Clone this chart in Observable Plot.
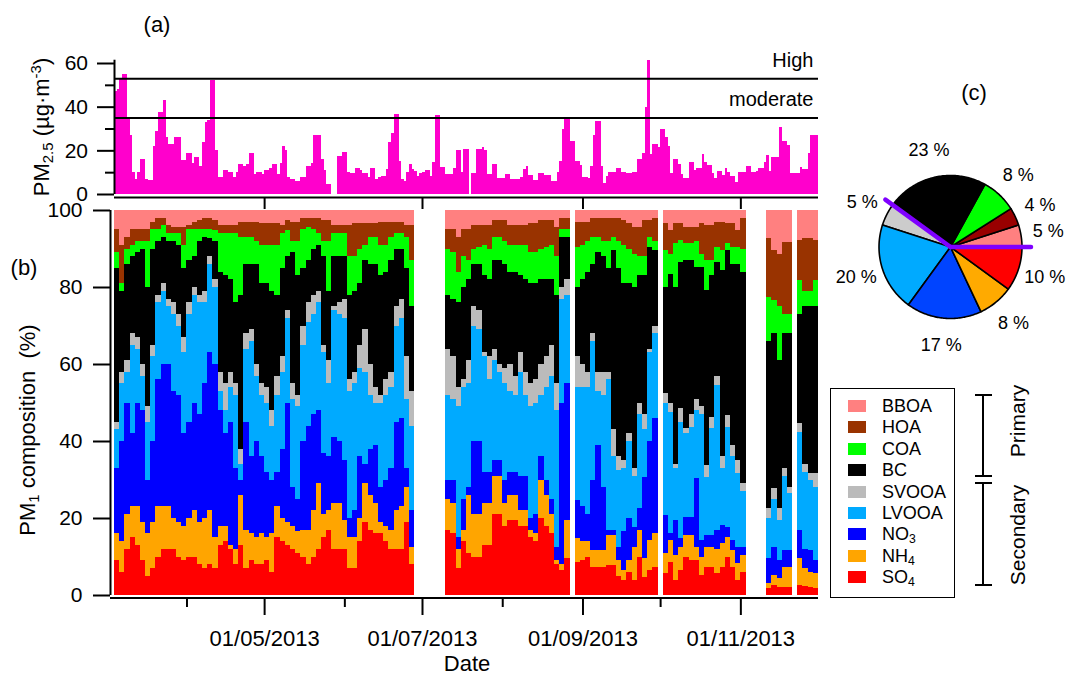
<!DOCTYPE html>
<html><head><meta charset="utf-8">
<script src="https://cdn.jsdelivr.net/npm/d3@7"></script>
<script src="https://cdn.jsdelivr.net/npm/@observablehq/plot@0.6"></script>
<style>
body{margin:0;background:#fff;}
#root{position:relative;width:1067px;height:676px;font-family:"Liberation Sans",Arial,Helvetica,sans-serif;color:#000;overflow:hidden;background:#fff;}
.t{position:absolute;transform:translate(-50%,-50%);white-space:pre;line-height:1;}
.rot{position:absolute;transform:translate(-50%,-50%) rotate(-90deg);white-space:pre;line-height:1;}
sub,sup{font-size:0.68em;line-height:0;}
sub{vertical-align:-0.28em;}
sup{vertical-align:0.55em;}
.sw{position:absolute;width:18px;height:12px;}
.lt{position:absolute;font-size:18px;line-height:1;white-space:pre;transform:translateY(-50%);}
.ln{position:absolute;background:#000;}
</style></head>
<body><div id="root"></div>
<script>
// ---------------- DATA ----------------
const startDay = "2013-03-04";          // first day of the record
const binDays = 2;                      // composition columns are 2-day bins

// (a) daily PM2.5 (µg m-3), null = missing
const pm25 = [
47,48,53,55,55,35,27,10,7,10, 16,16,7,6.5,6.5,22,29,37.5,37.5,43,
26,23,23,26,26,26,15.6,15.6,19,19, 14,17,17,13,24,33,34,52,52,20,
8,8,11,11,10,10,8,10,13.6,13.6, 13,13.6,19,19,9,10,10,9,11,11,
12,13.6,13.6,9,14,22,20,8,7,7, 6,6,8,8,13,13,14,27,27,27,
16,11,4.5,4.5,null,null,17.6,17.6,19.4,19.4, 10,9.5,9.5,12,12,11,9.5,9.5,8,12,
12,7,8,8.4,8.4,11.5,24,28,36.6,36.6, 15,7,6,10,13.6,11.5,10.6,8.4,9.5,10,
11,11,8.4,14.5,36,36,12.5,12.5,9,9, 9,12,20,20,10,20.6,20.6,null,9.5,9.5,
20.5,20.5,21.7,20,9.2,9.2,13.6,13.6,7.2,7.2, 7.2,9.2,9.2,6.7,6.7,6.7,6.7,8,11.3,13,
8.7,8.7,6.4,6.4,9.8,9.8,8.7,8.7,8.7,6, 6,10,15,30,34.7,34.7,24.5,24.5,15,15,
13.3,7.7,7.7,7.2,12.9,27,33.5,33.5,12.9,5.2, 8.3,10.3,10.3,10.3,12,12,10,10,9.5,9.5,
10,10,16,16,19,40,61.2,18.4,23,23, 21.7,30,30,26.3,22.2,9.5,16,16,13.8,9.2,
7.2,7.2,14.5,14.5,11,12,12,18.2,14.8,13.3, 13.3,9.5,7.2,10.6,10.6,8.7,12,10,8.3,8.3,
5.4,10,10,10.3,13,13,10,10,10.6,11.8, 11.8,14.8,17.9,10.7,16.8,16.8,16.8,30.6,24.5,24.5,
22.5,9.5,9.5,9.5,9.5,12.2,11.3,11.3,18.7,27, 27,27
];
const thresholds = [{label: "High", value: 53}, {label: "moderate", value: 35}];

// (b) PM1 composition: cumulative upper edge (%) of each stacked layer, 2-day bins, null = gap
const so4Top = [
9,6,12,15,13,9,5,7,10,12, 12,12,10,9,10,10,8,7,8,7, 13,14,12,8,13,7,9,8,8,9,
6,15,14,13,12,11,10,8,10,12, 15,17,12,12,12,7,7,14,19,17, 16,16,14,12,12,12,19,8,null,null,
null,null,null,null,17,16,7,14,11,10, 10,13,13,21,21,18,19.5,19.5,18,18, 15,14,20,18,16,8,6.5,9.5,null,8.7,
9,10,7.4,7.4,7.4,7.8,7.8,5,4,6, 4,10,4.8,6.5,7.4,null,5.6,8.7,4,6.5, 10,9,9,5.2,7.4,7.4,5.6,7.4,10,7.4,
4,6,null,null,null,null,1.7,2.6,2.2,2.2, 2.2,null,2.6,2.4,2.2,1.7];
const nh4Top = [
16,14,21,23,23,19,16,19,23,23, 23,20,19,18,20,22,19,20,22,15, 18,18,13,12,26,17,16,15,16,15,
16,23,20,19,18,16.5,17,17,22,29, 21,22,24,24,19.5,15,15,20,29,26, 24,19,18,17,22,23,28,12.5,null,null,
null,null,null,null,25,24,12,17,26,21, 21,24,24,31,31,24,26,26,22,22, 17,16,30,26,21,9,8,19.5,null,14.7,
14,14,11.7,11.7,11.7,15.6,15.6,9,6.5,9, 12.5,17,9.5,14.3,16,null,10.8,14.3,10.4,12.5, 15.6,15.6,12.5,10,12.5,12.5,12,13.4,15,11.7,
8.2,10.4,null,null,null,null,3,5.2,4.3,7.4, 7.4,null,9.5,7,6,5.6];
const no3Top = [
33,40,50,42,50,48,30,40,56,60, 60,53,52,42,45,50,47,55,63,60, 48,42,45,33,30,45,36,40,36,32,
30,32,38,50,28,25,40,44,47,48, 37,36,41,40,35,20,22,36,34,38, 39,28,30,33,45,46,33,22,null,null,
null,null,null,null,30,30,15,25,28,40, 40,32,32,35,35,30,32,32,31,31, 20,21,36,30,25,12.5,50,55,null,24.7,
23,21,30,39,28,17,17,12.5,16.5,20, 17.7,22.5,30.7,40,46,null,20.8,16,19.5,14.7, 20.3,20.3,30.3,14.3,15.6,15.6,16.9,18.2,17.7,14.3,
12.5,12.5,null,null,null,null,9.5,12.5,9,11.7, 11.7,null,16.9,12,11.7,9];
const lvooaTop = [
43,55,58,65,64,57,45,62,76,79, 75,73,70,63,73,78,76,76,86,80, 53,48,54,52,34,64,66,57,52,50,
44,52,58,72,51,49,65,71,73,76, 63,55,74,73,72,53,55,59,58,52, 50,50,52,54,70,72,51,44,null,null,
null,null,null,null,52,51,49,54,55,70, 69,62,56,61,58,55,53,52,58,52, 49,50,52,54,57,48,77,78,null,54,
54,54,66,53,52,56,36,32.5,33,40, 31,47,43,63,68,null,50,47.6,33,45, 42,43.7,48,47,30.7,43.3,54.5,33,43.7,36,
31.6,27,null,null,null,null,20,25,19.5,31, 26.4,null,42.4,32,30,28];
const svooaTop = [
45,58,61,68,67,60,49,65,78,81, 77,76,73,67,76,80,78,79,88,82, 58,55,58,55,38,68,69,60,55,54,
48,57,62,74,55,52,70,76,78,79, 65,61,75,76,77,56,58,65,69,60, 54,52,56,58,75,77,62,53,null,null,
null,null,null,null,64,62,54,56,61,75, 74,63,62,64,60,59,60,57,63,58, 55,56,60,62,65,55,80,82,null,62,
60,58,68,58,58,58,43,36,35,42, 33,50,47,64,70,null,52.4,50,34,48.5, 43.5,47,51,49,33.8,46.3,57,36,46.8,39,
35,29,null,null,null,null,22.5,27.7,22.5,33, 28,null,44.6,34,31.6,31.6];
const bcTop = [
85,79,86,88,89,90,80,90,92,93, 92,92,91,85,87,88,92,93,92.6,92, 84,83,82,76,78,86,86,86,81,81,
79,78,85,88,89,83,85,87,90,91, 88,79,88,88,88,78,79,81,87,86, 86,83,84,87,90,90,85,75,null,null,
null,null,null,null,78,77,76,80,82,86, 86,83,82,87,87,86,84,84,83,82, 81,81,82,82,82,78,93,93,null,80,
82,84,86,89,88,85,89.6,85,81,81, 80,83,83,90.5,89.6,null,80,83.5,80,86.6, 87,87,85.3,85.3,79.2,83,86.6,84.4,89.6,86,
86,84,null,null,null,null,66,68,61,68, 68,null,73,75,75,75];
const coaTop = [
89,81,90,91,92,92,92,95,95,96, 94,94,94,91,95,95,95,95,95,94.8, 94,94,94,94,93,93,93,92,91,91,
91,91,94,94.8,92,92,95,95.7,95,94, 92,92,94,94,94,88,88,90,91,93, 93,91,91,93,94,94,93,87,null,null,
null,null,null,null,90,89,84,88,87,90, 90.5,91,90,93,93,92,91,91,91,91, 89,89,90,90.5,91,88,95,95,null,90.5,
91,92,93,93,92,92,93,92,91,90, 88.7,88,88,93,92,null,89.6,88.7,91.3,92.2, 91.3,91.3,92,88.7,87,87,90.5,89.6,91.3,90.5,
90.5,90,null,null,null,null,77.5,76.6,75,73, 73,null,81.8,79,79,81.8];
const hoaTop = [
95,91,93,95,95,95,95,97,98,98, 96,95.5,95.5,95.5,96,97,97.5,98,98,97.5, 96,96,96,96,97,97,97,97,96.5,96.5,
96.5,96.5,96,97.4,97,97,98,98,98,98, 97.4,97.4,96,96,96,96,96.5,96.5,96.5,96.5, 96.5,97,97,97,97,97,96,96,null,null,
null,null,null,null,95,95,93,95,95,96, 96,96,96,97.4,97.4,97.4,96,96,96,96, 96.5,96.5,97.4,97.4,97.4,95.7,97.8,97.8,null,97,
97,97,97.8,97.8,97.8,98,98,98,97.4,96.5, 95.7,95.7,97.4,97.4,97.8,null,96.5,94.8,96.5,96.5, 95.7,95.7,95.7,96.5,96,96,97,97,96.5,96.5,
94.8,97.8,null,null,null,null,92.6,89.6,88.7,91.8, 91.8,null,92.2,92.6,92.6,92.2];

// (c) campaign-average shares (%), counter-clockwise from 3 o'clock
const pieNames  = ["BBOA","HOA","COA","BC","SVOOA","LVOOA","NO3","NH4","SO4"];
const pieShares = [5,4,8,23,5,20,17,8,10];
const primaryCount = 4;   // BBOA, HOA, COA, BC are primary

// axes
const majorTicks = ["2013-05-01","2013-07-01","2013-09-01","2013-11-01"];
const minorTicks = ["2013-04-01","2013-06-01","2013-08-01","2013-10-01"];
const yTicksA = [0,20,40,60], yMinorA = [10,30,50];
const yTicksB = [0,20,40,60,80,100];

// ---------------- STYLE ----------------
const FONT = '"Liberation Sans", Arial, Helvetica, sans-serif';
const layerColors = {SO4:"#ff0000", NH4:"#ffa500", NO3:"#0000ff", LVOOA:"#00aaff", SVOOA:"#bbbbbb",
  BC:"#000000", COA:"#00ff00", HOA:"#993300", BBOA:"#ff8080"};
const pieColors = {BBOA:"#ff8080", HOA:"#990000", COA:"#00ff00", BC:"#000000", SVOOA:"#cccccc",
  LVOOA:"#00aaff", NO3:"#0044ff", NH4:"#ffaa00", SO4:"#ff0000"};
const legendOrder = ["BBOA","HOA","COA","BC","SVOOA","LVOOA","NO3","NH4","SO4"];
const legendText = {BBOA:"BBOA",HOA:"HOA",COA:"COA",BC:"BC",SVOOA:"SVOOA",LVOOA:"LVOOA",
  NO3:"NO<sub>3</sub>",NH4:"NH<sub>4</sub>",SO4:"SO<sub>4</sub>"};

// ---------------- BUILD ----------------
const root = document.getElementById("root");
const day = d3.utcDay;
const parse = s => new Date(s + "T00:00:00Z");
const t0 = parse(startDay);
const tEnd = day.offset(t0, pm25.length);
const majorDates = majorTicks.map(parse), minorDates = minorTicks.map(parse);

function place(el, left, top) {
  el.style.position = "absolute"; el.style.left = left + "px"; el.style.top = top + "px";
  el.style.background = "transparent"; el.style.overflow = "visible"; el.style.maxWidth = "none";
  el.style.fontFamily = FONT;
  root.appendChild(el);
}

// Panel (a)
const pmRows = pm25.map((v, i) => ({start: day.offset(t0, i), end: day.offset(t0, i + 1), v}))
  .filter(d => d.v != null);
const plotA = Plot.plot({
  width: 1067, height: 215,
  marginLeft: 114, marginRight: 249, marginTop: 0, marginBottom: 18,
  style: {fontFamily: FONT, fontSize: "21px", background: "transparent", overflow: "visible"},
  x: {domain: [t0, tEnd], label: null},
  y: {domain: [0, 60], range: [194, 63], label: null},
  marks: [
    Plot.rect(pmRows, {x1: "start", x2: "end", y1: 0, y2: "v", fill: "#ff00cc", shapeRendering: "crispEdges"}),
    Plot.ruleY(thresholds, {y: "value", stroke: "#000", strokeWidth: 2}),
    Plot.text(thresholds, {x: tEnd, y: "value", text: "label", textAnchor: "end", dx: -5, dy: -18.5, fontSize: 20, fill: "#000"}),
    Plot.ruleX([t0], {y1: 0, y2: 61.5, stroke: "#000", strokeWidth: 2}),
    Plot.ruleY([0], {dy: 3, stroke: "#000", strokeWidth: 2}),
    Plot.axisY({ticks: yTicksA, tickSize: 17, tickPadding: 9.5, fontSize: 21, strokeWidth: 2, label: null}),
    Plot.axisY({ticks: yMinorA, tickSize: 9, fill: "none", strokeWidth: 2, label: null}),
    Plot.axisX({ticks: majorDates, tickSize: 12, fill: "none", strokeWidth: 2, label: null})
  ]
});

// Panel (b)
const tops = {SO4: so4Top, NH4: nh4Top, NO3: no3Top, LVOOA: lvooaTop, SVOOA: svooaTop, BC: bcTop, COA: coaTop, HOA: hoaTop};
const stackOrder = ["SO4","NH4","NO3","LVOOA","SVOOA","BC","COA","HOA","BBOA"];
const layerMarks = stackOrder.map((name, j) => {
  const rows = [];
  for (let k = 0; k < so4Top.length; k++) {
    if (so4Top[k] == null) continue;
    const lo = j === 0 ? 0 : tops[stackOrder[j - 1]][k];
    const hi = name === "BBOA" ? 100 : tops[name][k];
    rows.push({start: day.offset(t0, k * binDays), end: day.offset(t0, (k + 1) * binDays), lo, hi: Math.max(lo, hi)});
  }
  return Plot.rect(rows, {x1: "start", x2: "end", y1: "lo", y2: "hi", fill: layerColors[name], shapeRendering: "crispEdges"});
});
const plotB = Plot.plot({
  width: 1067, height: 676,
  marginLeft: 110, marginRight: 249, marginTop: 210, marginBottom: 79,
  style: {fontFamily: FONT, fontSize: "21px", background: "transparent", overflow: "visible"},
  x: {domain: [t0, tEnd], range: [114, 818], label: null},
  y: {domain: [0, 100], range: [595, 210], label: null},
  marks: [
    ...layerMarks,
    Plot.ruleX([t0], {dx: -4, y1: 0, y2: 100, stroke: "#000", strokeWidth: 2}),
    Plot.ruleY([0], {dy: 2.5, stroke: "#000", strokeWidth: 2}),
    Plot.axisY({ticks: yTicksB, tickSize: 17, tickPadding: 11, fontSize: 21, strokeWidth: 2, label: null}),
    Plot.axisX({ticks: majorDates, tickSize: 18, tickPadding: 15, tickFormat: d3.utcFormat("%d/%m/%Y"), fontSize: 22, strokeWidth: 2, label: null}),
    Plot.axisX({ticks: minorDates, tickSize: 10, fill: "none", strokeWidth: 2, label: null})
  ]
});

// Panel (c) pie
const R = 71.5;
let cum = 0;
const total = d3.sum(pieShares);
const wedges = pieShares.map((s, i) => {
  const a0 = cum / total * 2 * Math.PI; cum += s; const a1 = cum / total * 2 * Math.PI;
  const n = Math.max(2, Math.ceil((a1 - a0) / (Math.PI / 180)));
  const pts = [{x: 0, y: 0}];
  for (let j = 0; j <= n; j++) { const a = a0 + (a1 - a0) * j / n; pts.push({x: R * Math.cos(a), y: R * Math.sin(a)}); }
  pts.push({x: 0, y: 0});
  return {name: pieNames[i], share: s, mid: (a0 + a1) / 2, pts};
});
const primaryAngle = d3.sum(pieShares.slice(0, primaryCount)) / total * 2 * Math.PI;
const dividers = [0, primaryAngle].map(a => [{x: 0, y: 0}, {x: (R + 9) * Math.cos(a), y: (R + 9) * Math.sin(a)}]);
const plotC = Plot.plot({
  width: 237, height: 300, margin: 0,
  style: {fontFamily: FONT, fontSize: "18px", background: "transparent", overflow: "visible"},
  x: {domain: [-120, 117], range: [0, 237], axis: null},
  y: {domain: [-123.5, 176.5], range: [300, 0], axis: null},
  marks: [
    ...wedges.map(w => Plot.line(w.pts, {x: "x", y: "y", fill: pieColors[w.name], stroke: "#000", strokeWidth: 1.6, strokeLinejoin: "round"})),
    ...dividers.map(d => Plot.line(d, {x: "x", y: "y", stroke: "#7f00ff", strokeWidth: 4.5})),
    Plot.text(wedges, {x: d => 99 * Math.cos(d.mid), y: d => 99 * Math.sin(d.mid), text: d => `${d.share} %`, fontSize: 18, fill: "#000"})
  ]
});

place(plotB, 0, 0);
place(plotA, 0, 0);
place(plotC, 830, 70);

// Text labels
function addText(html, x, y, size, rotate) {
  const d = document.createElement("div");
  d.className = rotate ? "rot" : "t";
  d.style.left = x + "px"; d.style.top = y + "px"; d.style.fontSize = size + "px";
  d.innerHTML = html; root.appendChild(d); return d;
}
addText("(a)", 157, 25, 22);
addText("(b)", 24, 268, 22);
addText("(c)", 974, 93, 22);
addText("PM<sub>2.5</sub> (µg·m<sup>-3</sup>)", 42, 127, 22, true);
addText("PM<sub>1</sub> composition  (%)", 28, 430, 22, true);
addText("Date", 467, 664, 22);

// Legend
const box = document.createElement("div");
Object.assign(box.style, {position: "absolute", left: "830px", top: "388px", width: "125px", height: "210px",
  border: "1.5px solid #000", boxSizing: "border-box"});
root.appendChild(box);
legendOrder.forEach((name, i) => {
  const cy = 406 + 21.4 * i;
  const sw = document.createElement("div"); sw.className = "sw";
  Object.assign(sw.style, {left: "848px", top: (cy - 6) + "px", background: layerColors[name]});
  root.appendChild(sw);
  const tx = document.createElement("div"); tx.className = "lt";
  Object.assign(tx.style, {left: "882px", top: cy + "px"});
  tx.innerHTML = legendText[name]; root.appendChild(tx);
});
// Brackets
function line(l, t, w, h) { const d = document.createElement("div"); d.className = "ln";
  Object.assign(d.style, {left: l + "px", top: t + "px", width: w + "px", height: h + "px"}); root.appendChild(d); }
line(982, 395, 2, 81); line(975, 394, 17, 2); line(975, 475, 17, 2);
line(982, 483, 2, 102); line(975, 482, 17, 2); line(975, 584, 17, 2);
addText("Primary", 1017, 421, 21, true);
addText("Secondary", 1017, 535, 21, true);
</script></body></html>
